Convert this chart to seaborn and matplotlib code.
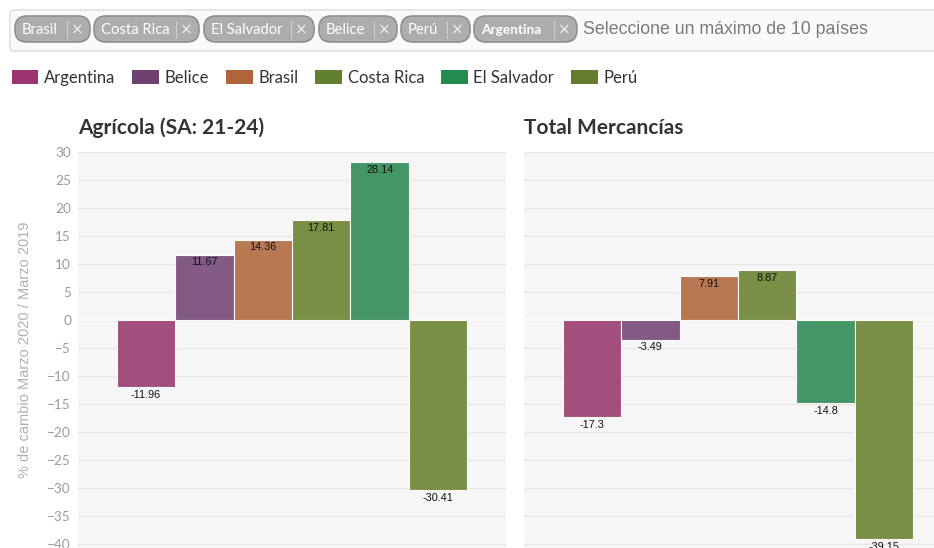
import pandas as pd
import matplotlib.pyplot as plt
import numpy as np
import seaborn as sns
from matplotlib.patches import FancyBboxPatch, Patch

# data
countries = ['Argentina', 'Belice', 'Brasil', 'Costa Rica', 'El Salvador', 'Perú']
agricola = [-11.96, 11.67, 14.36, 17.81, 28.14, -30.41]
total_mercancias = [-17.3, -3.49, 7.91, 8.87, -14.8, -39.15]
bar_colors = ['#9e4677', '#7d527e', '#b5714b', '#728a3c', '#3a915e', '#738a3c']
legend_colors = ['#9b3471', '#6f4171', '#b0643b', '#61812e', '#248b4f', '#637d2c']
selected_tags = ['Brasil', 'Costa Rica', 'El Salvador', 'Belice', 'Perú', 'Argentina']
placeholder = 'Seleccione un máximo de 10 países'
y_ticks = list(range(-40, 31, 5))
titles = ['Agrícola (SA: 21-24)', 'Total Mercancías']
y_label = '% de cambio Marzo 2020 / Marzo 2019'

W, H = 934, 548


def px_axes(x0, y0, x1, y1):
    """Convert pixel box (top-left origin) into figure fractions."""
    return [x0 / W, 1 - y1 / H, (x1 - x0) / W, (y1 - y0) / H]


def draw_panel(ax, values, title, show_yticks):
    df = pd.DataFrame({'pais': countries, 'valor': values})
    sns.barplot(data=df, x='pais', y='valor', hue='pais', palette=bar_colors,
                width=1.0, saturation=1, legend=False, ax=ax,
                edgecolor='#ffffff', linewidth=0.8, alpha=0.95, zorder=3)
    ax.set_facecolor('#f6f6f6')
    ax.set_xlim(-1.16, 6.16)
    ax.set_ylim(-40.7, 30)
    ax.set_yticks(y_ticks)
    ax.grid(axis='y', color='#e7e7e7', linewidth=1, zorder=0)
    ax.grid(axis='x', visible=False)
    ax.axhline(0, color='white', linewidth=1.2, zorder=2)
    ax.set_xticks([])
    ax.set_xlabel('')
    ax.set_ylabel('')
    for s in ax.spines.values():
        s.set_visible(False)
    ax.tick_params(axis='y', length=0, pad=5, labelsize=9.8, labelcolor='#9a9a9a')
    if not show_yticks:
        ax.set_yticklabels([])
    for i, v in enumerate(values):
        ax.annotate(f'{v:g}', (i, v), xytext=(0, -2), textcoords='offset points',
                    ha='center', va='top', fontsize=7.8, color='#111111',
                    fontfamily='Liberation Sans', zorder=5)
    ax.text(0, 1.035, title, transform=ax.transAxes, fontsize=15, fontweight='bold',
            color='#333333', ha='left', va='bottom', fontfamily='Lato')


sns.set_theme(style='white')
plt.rcParams['font.family'] = ['Lato', 'DejaVu Sans']

fig = plt.figure(figsize=(W / 100, H / 100), dpi=100)
fig.patch.set_facecolor('white')

ax1 = fig.add_axes(px_axes(78, 152, 506, 548))
ax2 = fig.add_axes(px_axes(524, 152, 952, 548))
draw_panel(ax1, agricola, titles[0], True)
draw_panel(ax2, total_mercancias, titles[1], False)
ax1.set_ylabel(y_label, fontsize=10.5, color='#b0b0b0', fontfamily='Liberation Sans', labelpad=11)

# overlay for the selector box (pixel coordinates)
ov = fig.add_axes([0, 0, 1, 1], zorder=10)
ov.set_xlim(0, W)
ov.set_ylim(H, 0)
ov.axis('off')
ov.patch.set_alpha(0)
ov.add_patch(FancyBboxPatch((10, 10), 940, 41, boxstyle='round,pad=0,rounding_size=3',
                            facecolor='#fafafa', edgecolor='#dcdcdc', linewidth=1))
pills = [(15, 90), (94, 199), (204, 314), (319, 397), (401, 470), (474, 577)]
for (x0, x1), name in zip(pills, selected_tags):
    ov.add_patch(FancyBboxPatch((x0, 16), x1 - x0, 26, boxstyle='round,pad=0,rounding_size=12',
                                facecolor='#adadad', edgecolor='#8f8f8f', linewidth=1.2))
    ov.text(x0 + 7, 29.5, name, fontsize=10.6 if name != 'Argentina' else 9.8,
            color='white', ha='left', va='center', fontfamily='Lato',
            fontweight='bold' if name == 'Argentina' else 'normal')
    ov.plot([x1 - 23, x1 - 23], [21, 38], color='#cfcfcf', linewidth=0.8)
    ov.text(x1 - 12.5, 29.5, '×', fontsize=11, color='#eeeeee', ha='center', va='center',
            fontfamily='DejaVu Sans')
ov.text(583, 30, placeholder, fontsize=12.8, color='#7a7a7a', ha='left', va='center',
        fontfamily='Liberation Sans')

handles = [Patch(facecolor=c, edgecolor='none', label=n) for c, n in zip(legend_colors, countries)]
fig.legend(handles=handles, loc='upper left', bbox_to_anchor=(5 / W, 1 - 63 / H), ncol=6,
           frameon=False, fontsize=12, handlelength=1.6, handleheight=0.9,
           handletextpad=0.35, columnspacing=1.0, labelcolor='#333333', borderaxespad=0)

fig.savefig('out.png', dpi=100)
